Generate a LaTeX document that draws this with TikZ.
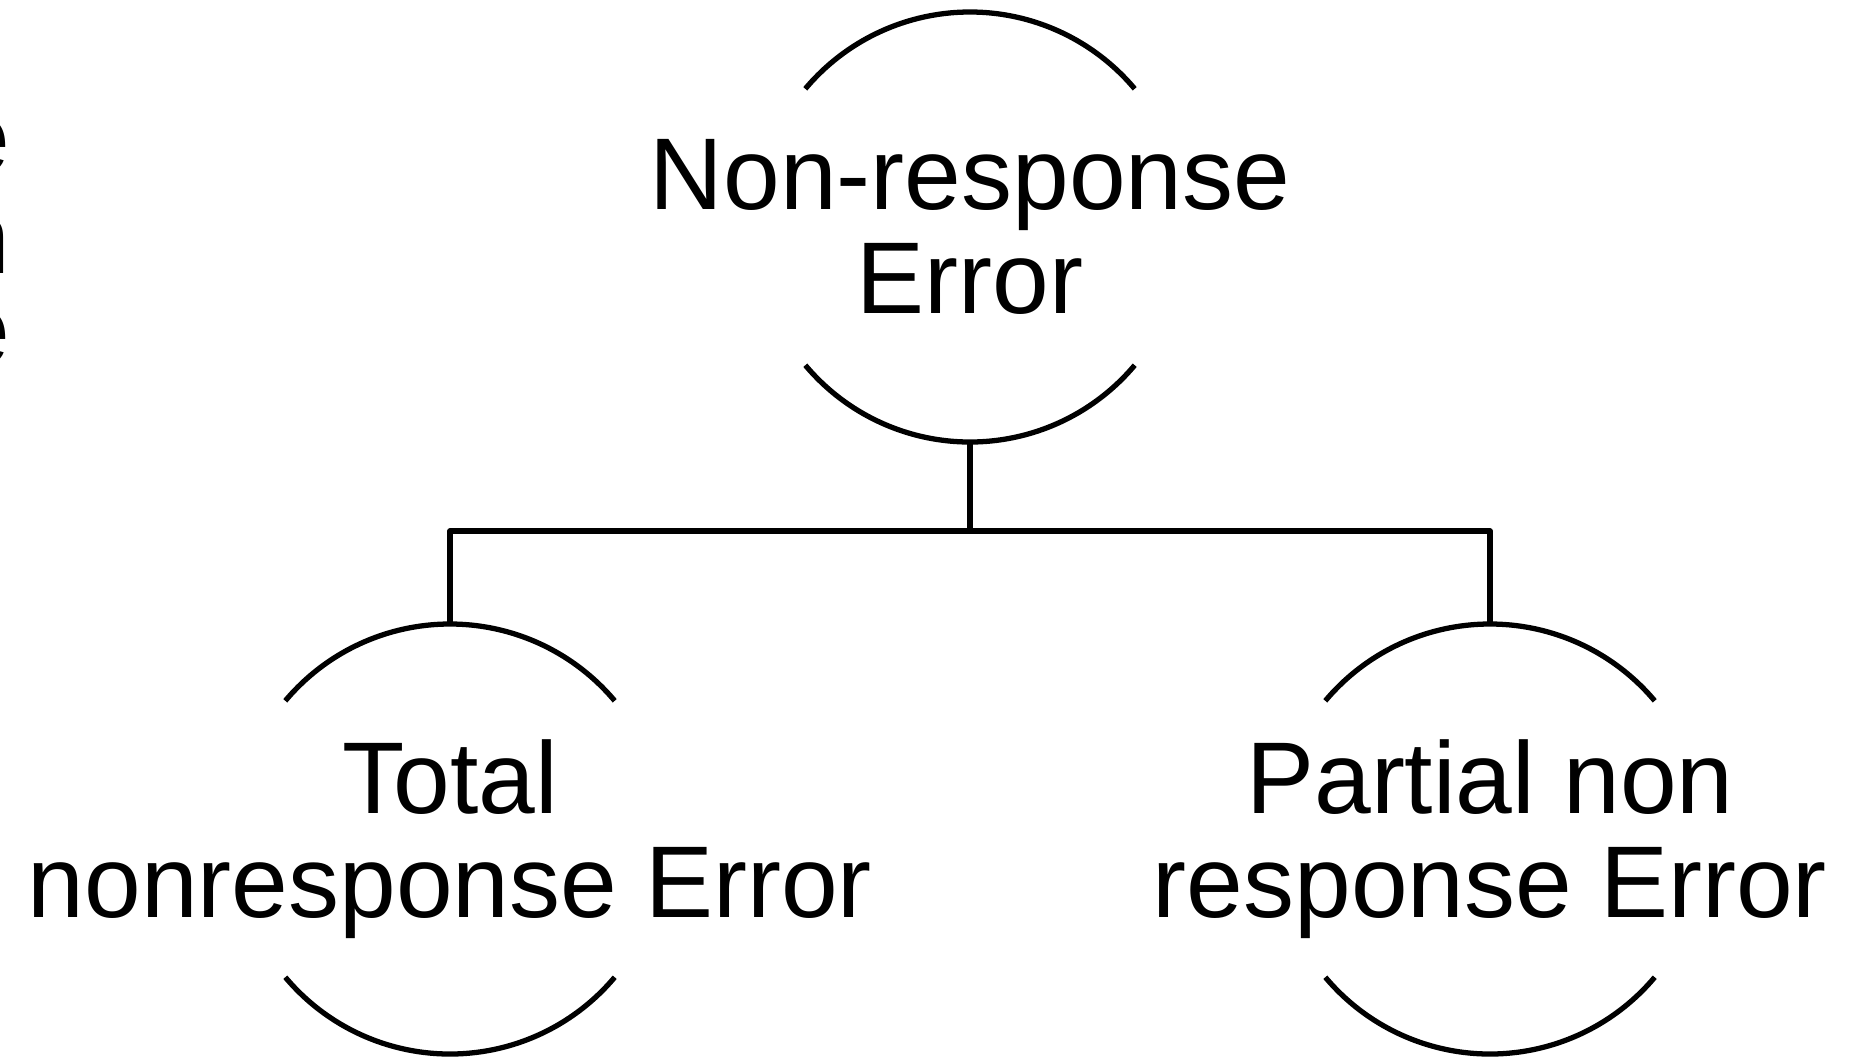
\documentclass[tikz,border=0pt]{standalone}
\usepackage{fontspec}
\setmainfont{Liberation Sans}

\begin{document}
\begin{tikzpicture}[line width=1.5pt, line join=round,
  ring/.style={circle, minimum size=4.3cm, inner sep=0pt, outer sep=0pt},
  txt/.style={align=center, inner sep=0pt, font=\fontsize{29}{29.6}\selectfont}]
\useasboundingbox (0,0) rectangle (18.71,-10.56);
\node[ring](root) at (9.70,-2.27){};
\node[ring](total) at (4.50,-8.39){};
\node[ring](partial) at (14.90,-8.39){};
\node[txt](roottext) at (root.center){Non-response\\Error};
\node[txt](totaltext) at (total.center){Total\\nonresponse Error};
\node[txt](partialtext) at (partial.center){Partial non\\response Error};
\foreach \n in {root,total,partial}{
 \draw (\n.40) arc[start angle=40, end angle=140, radius=2.15cm];
 \draw (\n.220) arc[start angle=220, end angle=320, radius=2.15cm];
}
\coordinate (bar) at (9.70,-5.31);
\draw (root.south) -- (bar);
\draw (total.north) |- (bar) -| (partial.north);
% letters cut off at the left edge
\foreach \ch/\y [count=\i] in {e/1.72,n/2.73,e/3.64}
 \node[txt, anchor=base east](cut\i) at (0.13,-\y){\ch};
\end{tikzpicture}
\end{document}
